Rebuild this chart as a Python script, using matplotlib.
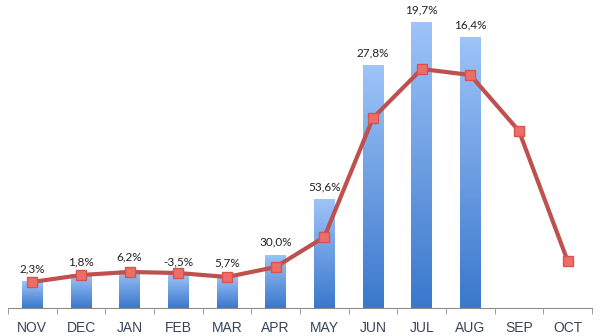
import numpy as np
import matplotlib
matplotlib.use("Agg")
import matplotlib.pyplot as plt

months = ["NOV", "DEC", "JAN", "FEB", "MAR", "APR", "MAY", "JUN", "JUL", "AUG", "SEP", "OCT"]
# current season (bars) -- SEP/OCT not in yet
current = [26.6, 33.6, 38.2, 33.8, 32.8, 53.3, 109.0, 243.0, 286.0, 271.0]
# previous season (line)
previous = [26.0, 33.0, 36.0, 35.0, 31.0, 41.0, 71.0, 190.0, 239.0, 233.0, 177.0, 47.0]
growth = ["2,3%", "1,8%", "6,2%", "-3,5%", "5,7%", "30,0%", "53,6%", "27,8%", "19,7%", "16,4%"]

plt.rcParams["font.family"] = ["Lato", "DejaVu Sans"]

fig = plt.figure(figsize=(6.0, 3.36), dpi=100)
ax = fig.add_axes([8 / 600, 28 / 336, 584 / 600, 308 / 336])

x = np.arange(len(months))
xb = x[:len(current)]
bars = ax.bar(xb, current, width=0.42, color="none", edgecolor="none", zorder=2)

# vertical blue gradient inside each bar
grad = np.linspace(1, 0, 256).reshape(-1, 1)
cmap = matplotlib.colors.LinearSegmentedColormap.from_list("bl", ["#3a78cc", "#9ec4f8"])
for b in bars:
    x0, y0 = b.get_x(), b.get_y()
    im = ax.imshow(grad, extent=[x0, x0 + b.get_width(), y0, y0 + b.get_height()],
                   aspect="auto", cmap=cmap, zorder=2, origin="upper")
    im.set_clip_path(b)

ax.plot(x, previous, color="#c0504d", lw=3, zorder=3,
        marker="s", markersize=7.5, markerfacecolor="#ec6e68", markeredgecolor="#d9534f",
        markeredgewidth=1)

for xi, v, lab in zip(xb, current, growth):
    ax.annotate(lab, (xi, v), xytext=(0, 5), textcoords="offset points",
                ha="center", va="bottom", fontsize=8.5, color="#222222")

ax.set_xlim(-0.5, len(months) - 0.5)
ax.set_ylim(0, 308)
ax.set_yticks([])
for s in ["top", "right", "left"]:
    ax.spines[s].set_visible(False)
ax.spines["bottom"].set_color("#8c8c8c")
ax.set_xticks(x)
ax.set_xticklabels(months, fontsize=10, color="#3a4458", family="Liberation Sans")
ax.tick_params(axis="x", which="major", length=0, pad=9)
ax.set_xticks(np.arange(-0.5, len(months), 1.0), minor=True)
ax.tick_params(axis="x", which="minor", length=4, color="#8c8c8c", direction="out")

fig.savefig("out.png", dpi=100)
